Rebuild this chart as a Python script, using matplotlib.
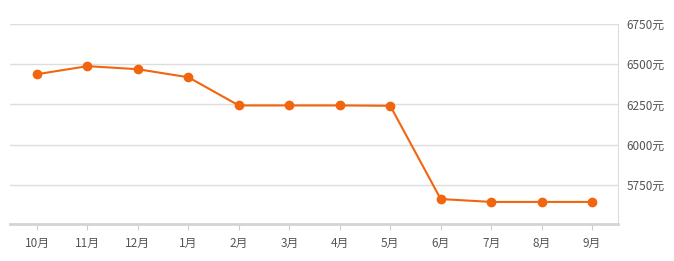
import numpy as np
import matplotlib
matplotlib.use('Agg')
import matplotlib.pyplot as plt

plt.rcParams['font.family'] = ['Noto Sans CJK SC', 'DejaVu Sans']

months = ['10月', '11月', '12月', '1月', '2月', '3月', '4月', '5月', '6月', '7月', '8月', '9月']
prices = [6438, 6488, 6469, 6419, 6244, 6244, 6244, 6242, 5663, 5645, 5645, 5645]
yticks = [5750, 6000, 6250, 6500, 6750]

fig = plt.figure(figsize=(6.74, 2.61), dpi=100)
ax = fig.add_axes([0.0148, 0.1418, 0.9022, 0.7664])

x = np.arange(len(months))
ax.plot(x, prices, color='#f2650f', lw=1.5, marker='o', ms=6, zorder=3)

ax.set_xlim(-0.535, 11.515)
ax.set_ylim(5508, 6750)

ax.set_yticks(yticks)
ax.set_yticklabels([f'{v}元' for v in yticks])
ax.yaxis.tick_right()
ax.grid(axis='y', color='#dddddd', lw=1)
ax.set_axisbelow(True)

ax.set_xticks(x)
ax.set_xticklabels(months)

for s in ['top', 'left']:
    ax.spines[s].set_visible(False)
ax.spines['right'].set_color('#dddddd')
ax.spines['bottom'].set_color('#d4d4d4')
ax.spines['bottom'].set_linewidth(2)

ax.tick_params(axis='y', length=0, pad=6, labelsize=8.5, labelcolor='#555555')
ax.tick_params(axis='x', length=4, color='#cccccc', pad=5, labelsize=8.5, labelcolor='#555555')

fig.savefig('out.png', dpi=100)
